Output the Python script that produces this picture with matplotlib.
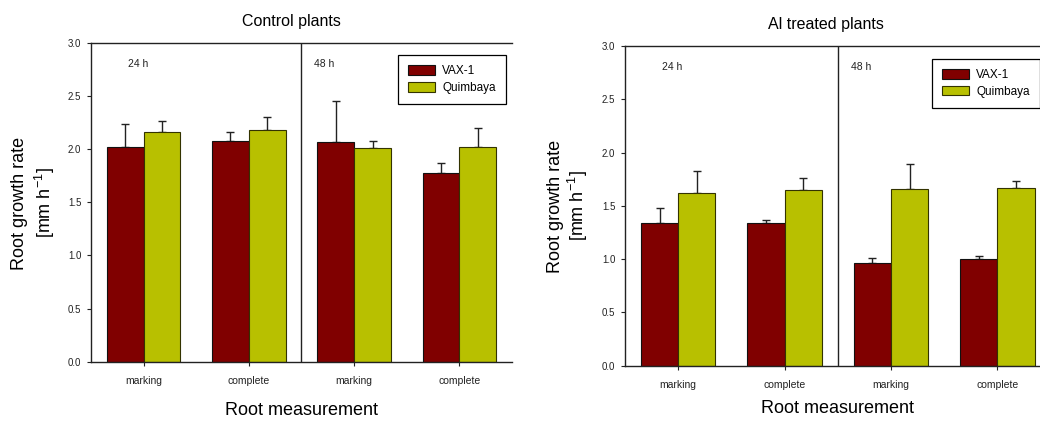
import matplotlib.pyplot as plt
import numpy as np

plt.rcParams['font.family'] = ['Liberation Sans', 'DejaVu Sans']
plt.rcParams['mathtext.fontset'] = 'custom'
plt.rcParams['mathtext.rm'] = 'Liberation Sans'
plt.rcParams['mathtext.it'] = 'Liberation Sans'

# data
measures = ['marking', 'complete', 'marking', 'complete']
cultivars = ['VAX-1', 'Quimbaya']
control_vax = [2.02, 2.08, 2.07, 1.77]
control_vax_err = [0.22, 0.08, 0.38, 0.10]
control_quim = [2.16, 2.18, 2.01, 2.02]
control_quim_err = [0.10, 0.12, 0.07, 0.18]
al_vax = [1.34, 1.34, 0.96, 1.00]
al_vax_err = [0.14, 0.03, 0.05, 0.03]
al_quim = [1.62, 1.65, 1.66, 1.67]
al_quim_err = [0.21, 0.11, 0.23, 0.06]
times = ['24 h', '48 h']

red = '#800000'
green = '#B8C000'
w = 0.35

fig = plt.figure(figsize=(10.4, 4.21), dpi=100)


def panel(rect, title, title_x, vax, vax_err, quim, quim_err, leg_anchor, xlabel_pad):
    ax = fig.add_axes(rect)
    x = np.arange(len(measures))
    ax.bar(x - w / 2, vax, w, color=red, edgecolor='#111111', linewidth=0.8, label=cultivars[0], zorder=2)
    ax.bar(x + w / 2, quim, w, color=green, edgecolor='#333300', linewidth=0.8, label=cultivars[1], zorder=2)
    # only upper error bars
    ax.errorbar(x - w / 2, vax, yerr=[np.zeros(4), vax_err], fmt='none', ecolor='#222222',
                elinewidth=1, capsize=2.9, capthick=1, zorder=1)
    ax.errorbar(x + w / 2, quim, yerr=[np.zeros(4), quim_err], fmt='none', ecolor='#222222',
                elinewidth=1, capsize=2.9, capthick=1, zorder=1)
    ax.axvline(1.5, color='#222222', lw=1)
    ax.set_xlim(-0.5, 3.5)
    ax.set_ylim(0, 3.0)
    ax.set_yticks(np.arange(0, 3.01, 0.5))
    ax.set_yticklabels(['%.1f' % v for v in np.arange(0, 3.01, 0.5)])
    ax.set_xticks(x)
    ax.set_xticklabels(measures)
    ax.tick_params(axis='y', direction='out', length=3, width=0.8, pad=4, labelsize=7, colors='#222222')
    ax.tick_params(axis='x', direction='out', length=3, width=0.8, pad=7, labelsize=7.5, colors='#222222')
    ax.spines['right'].set_visible(False)
    for s in ['left', 'top', 'bottom']:
        ax.spines[s].set_linewidth(1)
        ax.spines[s].set_color('#222222')
    ax.text(-0.15, 2.8, times[0], fontsize=7.5, ha='left', va='center', color='#222222')
    ax.text(1.62, 2.8, times[1], fontsize=7.5, ha='left', va='center', color='#222222')
    ax.set_title(title, fontsize=11.5, pad=12, x=title_x)
    leg = ax.legend(loc='upper left', bbox_to_anchor=leg_anchor, borderaxespad=0, fontsize=8.5,
                    fancybox=False, edgecolor='black', framealpha=1, handlelength=2.3,
                    handleheight=0.85, handletextpad=0.6, labelspacing=0.4, borderpad=0.85)
    leg.get_frame().set_linewidth(0.9)
    ax.set_xlabel('Root measurement', fontsize=13, labelpad=xlabel_pad)
    return ax


ax1 = panel([0.0875, 0.1409, 0.4048, 0.7577], 'Control plants', 0.477,
            control_vax, control_vax_err, control_quim, control_quim_err, (0.729, 0.961), 12)
ax2 = panel([0.601, 0.1314, 0.4092, 0.7594], 'Al treated plants', 0.472,
            al_vax, al_vax_err, al_quim, al_quim_err, (0.721, 0.959), 7.5)

fig.text(20 / 1040, 1 - 203 / 421, 'Root growth rate', rotation=90, fontsize=13, ha='center', va='center')
fig.text(45 / 1040, 1 - 203 / 421, '[mm h$^{-1}$]', rotation=90, fontsize=13, ha='center', va='center')
fig.text(555 / 1040, 1 - 206 / 421, 'Root growth rate', rotation=90, fontsize=13, ha='center', va='center')
fig.text(578 / 1040, 1 - 206 / 421, '[mm h$^{-1}$]', rotation=90, fontsize=13, ha='center', va='center')

plt.savefig('out.png', dpi=100)
